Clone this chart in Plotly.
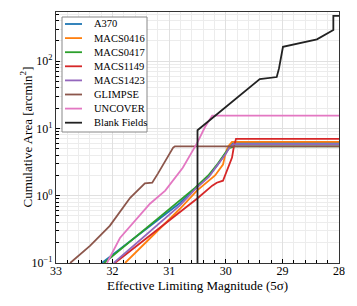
import plotly.graph_objects as go

# ---- data (mag, cumulative area arcmin^2) ----
a370_mag = [32.19, 30.81, 30.54, 30.30, 30.14, 30.00, 29.93, 29.87, 28.0]
a370_area = [0.1, 0.78, 1.30, 1.95, 2.9, 4.3, 5.6, 6.1, 6.1]

m0416_mag = [31.78, 30.81, 30.51, 30.19, 30.05, 30.00, 29.96, 29.89, 28.0]
m0416_area = [0.1, 0.64, 1.19, 2.0, 2.9, 4.4, 5.4, 6.3, 6.3]

m0417_mag = [32.15, 30.83, 30.54, 30.31, 30.14, 30.01, 29.94, 29.85, 28.0]
m0417_area = [0.1, 0.81, 1.32, 2.0, 3.0, 4.3, 5.1, 5.4, 5.4]

m1149_mag = [31.96, 30.81, 30.51, 30.24, 30.16, 30.05, 29.96, 29.89, 29.86, 29.82, 28.0]
m1149_area = [0.1, 0.58, 0.90, 1.41, 1.56, 1.67, 2.62, 3.69, 5.2, 7.0, 7.0]

m1423_mag = [31.98, 30.81, 30.54, 30.30, 30.14, 30.00, 29.93, 29.87, 28.0]
m1423_area = [0.1, 0.72, 1.25, 1.9, 2.9, 4.2, 5.3, 5.8, 5.8]

glimpse_mag = [32.75, 32.40, 32.05, 31.69, 31.43, 31.30, 31.20, 31.07, 30.99, 30.93, 30.90, 28.0]
glimpse_area = [0.1, 0.18, 0.356, 0.93, 1.52, 1.56, 2.13, 3.2, 4.2, 5.2, 5.4, 5.4]

uncover_mag = [32.10, 31.87, 31.34, 31.07, 30.76, 30.51, 30.37, 30.24, 28.0]
uncover_area = [0.1, 0.235, 0.76, 1.19, 2.6, 6.0, 10.4, 15.5, 15.5]

blank_mag = [30.5, 30.5, 29.40, 29.10, 29.06, 28.99, 28.39, 28.10, 28.10, 28.0]
blank_area = [0.05, 9.4, 54, 58, 78, 163, 211, 290, 470, 470]

names = ["A370", "MACS0416", "MACS0417", "MACS1149", "MACS1423", "GLIMPSE", "UNCOVER", "Blank Fields"]
colors = ["#1f77b4", "#ff7f0e", "#2ca02c", "#d62728", "#9467bd", "#8c564b", "#e377c2", "#222222"]
mags = [a370_mag, m0416_mag, m0417_mag, m1149_mag, m1423_mag, glimpse_mag, uncover_mag, blank_mag]
areas = [a370_area, m0416_area, m0417_area, m1149_area, m1423_area, glimpse_area, uncover_area, blank_area]

x_ticks = [33, 32, 31, 30, 29, 28]
y_ticks = [0.1, 1, 10, 100]
y_ticktext = ["10<sup>\u22121</sup>", "10<sup>0</sup>", "10<sup>1</sup>", "10<sup>2</sup>"]
x_title = "Effective Limiting Magnitude (5\u03c3)"
y_title = "Cumulative Area [arcmin<sup>2</sup>]"

fig = go.Figure()
for name, xs, ys, col in zip(names, mags, areas, colors):
    fig.add_trace(go.Scatter(x=xs, y=ys, mode="lines", name=name,
                             line=dict(color=col, width=1.8), showlegend=False))

font_family = "Liberation Serif, Times New Roman, serif"

# ---- custom legend (plot-area domain coordinates) ----
W, H = 283.0, 251.0  # plot area size in px
def dx(px):
    return px / W
def dy(px):
    return 1 - px / H

fig.add_shape(type="rect", xref="x domain", yref="y domain",
              x0=dx(6), x1=dx(91), y0=dy(5), y1=dy(120),
              line=dict(color="#888", width=1), fillcolor="white", layer="above")
for i, (name, col) in enumerate(zip(names, colors)):
    yy = dy(12 + i * 14.1)
    fig.add_shape(type="line", xref="x domain", yref="y domain",
                  x0=dx(9), x1=dx(26), y0=yy, y1=yy,
                  line=dict(color=col, width=1.8), layer="above")
    fig.add_annotation(xref="x domain", yref="y domain", x=dx(36), y=yy,
                       text=name, showarrow=False, xanchor="left", yanchor="middle",
                       font=dict(size=10.5, family=font_family, color="black"))

# axis titles as annotations for precise placement
fig.add_annotation(xref="x domain", yref="y domain", x=0.5, y=dy(H + 22),
                   text=x_title, showarrow=False, xanchor="center", yanchor="middle",
                   font=dict(size=13, family=font_family, color="black"))
fig.add_annotation(xref="x domain", yref="y domain", x=dx(-30), y=0.5,
                   text=y_title, showarrow=False, xanchor="center", yanchor="middle",
                   textangle=-90,
                   font=dict(size=13, family=font_family, color="black"))

# page body has an 8px margin; figure sized/margined so the plot area sits at 56..339 x 12..263
fig.update_layout(
    width=341, height=290,
    margin=dict(l=48, r=10, t=4, b=35),
    paper_bgcolor="white", plot_bgcolor="white",
    font=dict(family=font_family, size=12, color="black"),
    showlegend=False,
)
fig.update_xaxes(
    range=[33, 28], tickvals=x_ticks, ticks="inside", ticklen=4,
    tickcolor="black", showline=True, linecolor="#333", linewidth=1.2,
    mirror=True, showgrid=True, gridcolor="#e0e0e0", gridwidth=1,
    zeroline=False, automargin=False, ticklabelstandoff=-4,
    minor=dict(dtick=0.2, ticks="inside", ticklen=2.5, tickcolor="black",
               showgrid=True, gridcolor="#ececec"),
    tickfont=dict(size=12),
)
fig.update_yaxes(
    type="log", range=[-1, 2.73], tickvals=y_ticks, ticktext=y_ticktext,
    ticks="inside", ticklen=4, tickcolor="black",
    showline=True, linecolor="#333", linewidth=1.2, mirror=True,
    showgrid=True, gridcolor="#e0e0e0", zeroline=False, automargin=False,
    minor=dict(dtick="D1", ticks="inside", ticklen=2.5, tickcolor="black",
               showgrid=True, gridcolor="#ececec"),
    tickfont=dict(size=12),
)

fig.write_html("out.html")
